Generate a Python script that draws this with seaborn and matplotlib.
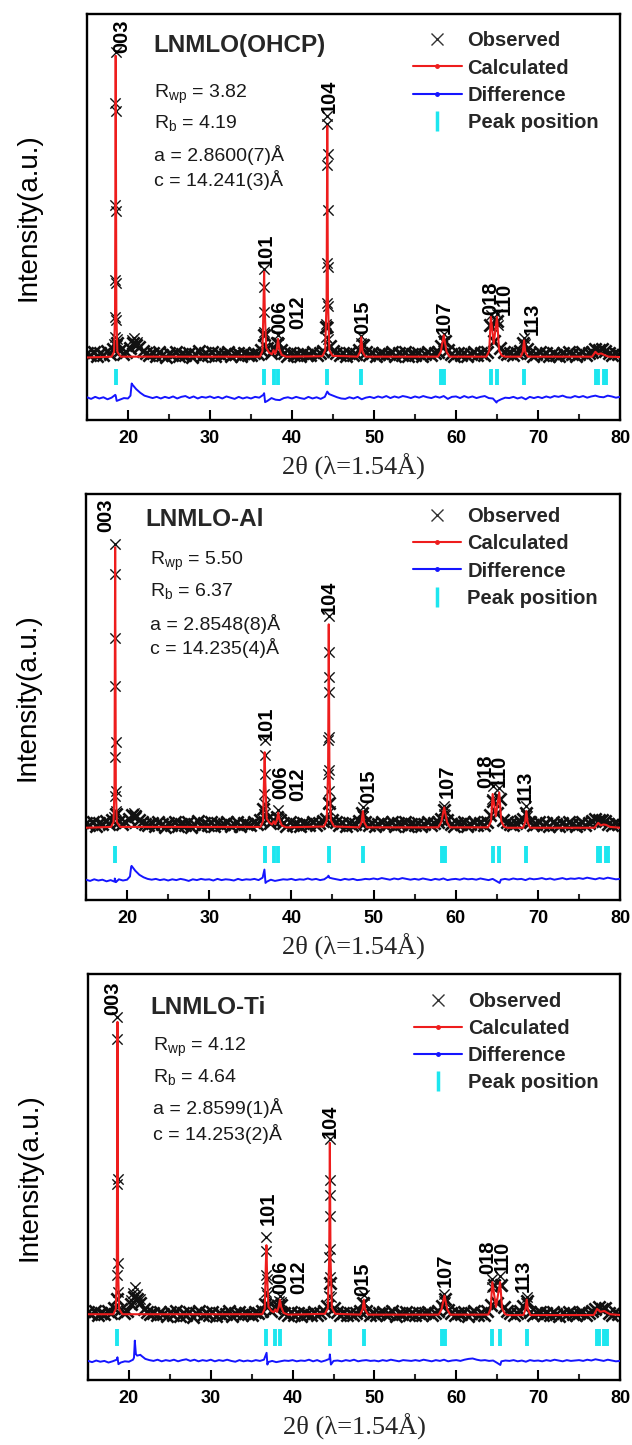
import numpy as np
import pandas as pd
import matplotlib
matplotlib.use("Agg")
import matplotlib.pyplot as plt
from matplotlib.lines import Line2D
from matplotlib.ticker import MultipleLocator
import seaborn as sns

sns.set_theme(style="ticks")
plt.rcParams["font.family"] = ["Liberation Sans", "DejaVu Sans"]
plt.rcParams["mathtext.fontset"] = "custom"
plt.rcParams["mathtext.rm"] = "Liberation Sans"
plt.rcParams["mathtext.it"] = "Liberation Sans:italic"

# ---- data (intensity in per-mille of panel height, 2theta in degrees) ----
SCAN_START, SCAN_STEP = 15.0, 0.4     # observed background scan
DIFF_START, DIFF_STEP = 15.0, 0.5     # difference curve sampling

HKL = ["003", "101", "006", "012", "104", "015", "107", "018", "110", "113"]
LEGEND_LABELS = ["Observed", "Calculated", "Difference", "Peak position"]

# panel 1: LNMLO(OHCP)
P1_NAME = "LNMLO(OHCP)"
P1_STATS = [r"R$_{\rm wp}$ = 3.82", r"R$_{\rm b}$ = 4.19", "a = 2.8600(7)Å", "c = 14.241(3)Å"]
P1_OBS_BG = [166, 160, 168, 158, 165, 161, 170, 163, 176, 190,
             172, 163, 168, 178, 190, 185, 180, 171, 166, 160,
             164, 158, 167, 161, 156, 165, 160, 168, 157, 163,
             160, 166, 155, 163, 169, 158, 164, 160, 167, 157,
             165, 159, 162, 168, 157, 163, 166, 158, 164, 161,
             160, 166, 163, 172, 210, 178, 166, 176, 190, 172,
             164, 158, 166, 160, 163, 157, 165, 161, 159, 167,
             160, 165, 170, 230, 182, 170, 166, 160, 164, 158,
             165, 160, 163, 172, 185, 168, 160, 165, 158, 163,
             166, 159, 162, 168, 157, 164, 161, 167, 158, 163,
             160, 165, 158, 163, 167, 160, 164, 168, 182, 195,
             172, 163, 158, 165, 161, 166, 157, 163, 168, 160,
             164, 160, 168, 235, 195, 245, 178, 168, 162, 165,
             159, 164, 170, 190, 175, 165, 158, 163, 167, 160,
             164, 158, 166, 161, 157, 165, 160, 167, 162, 158,
             163, 167, 160, 164, 168, 176, 172, 174, 170, 164,
             160, 166, 162]
P1_PK_X = [18.5, 18.47, 18.54, 18.46, 18.55, 18.44, 18.57, 18.42, 18.59, 18.39, 18.62, 18.35, 18.66,
           44.3, 44.28, 44.33, 44.27, 44.34, 44.25, 44.36, 44.22, 44.39, 44.2, 44.41, 44.16, 44.45,
           36.6, 36.58, 36.63, 36.55, 36.66, 36.5,
           38.3, 38.24, 38.37, 37.78, 48.45, 48.39, 48.52, 58.5, 58.43, 58.58,
           64.23, 64.15, 65.02, 65.1, 68.3, 68.22, 68.38, 20.45, 20.75, 21.05]
P1_PK_Y = [907, 782, 760, 530, 514, 345, 338, 254, 246, 204, 200, 186, 184,
           749, 728, 654, 629, 518, 386, 378, 287, 280, 237, 230, 204, 200,
           373, 328, 266, 217, 210, 188,
           209, 192, 190, 180, 208, 190, 188, 213, 195, 192,
           258, 232, 262, 235, 202, 188, 188, 196, 202, 192]
P1_CALC_X = [15.0, 18.0, 18.3, 18.42, 18.5, 18.58, 18.7, 19.1,
             36.1, 36.4, 36.52, 36.6, 36.68, 36.85, 37.2, 37.55, 37.75, 37.95, 38.15, 38.3, 38.45, 38.75, 39.3,
             43.7, 44.05, 44.22, 44.3, 44.38, 44.55, 44.95,
             48.0, 48.3, 48.45, 48.6, 48.95,
             57.8, 58.15, 58.5, 58.85, 59.2,
             63.7, 64.05, 64.25, 64.6, 65.0, 65.25, 65.6, 66.0,
             67.9, 68.15, 68.3, 68.45, 68.75,
             76.6, 77.0, 77.3, 77.7, 78.1, 78.6, 80.0]
P1_CALC_Y = [154, 156, 168, 260, 897, 260, 168, 156,
             156, 170, 280, 365, 270, 178, 166, 162, 172, 163, 175, 200, 175, 160, 156,
             157, 172, 300, 724, 300, 172, 158,
             156, 168, 204, 168, 156,
             156, 168, 209, 168, 156,
             156, 170, 254, 188, 254, 172, 158, 156,
             156, 168, 196, 168, 156,
             156, 168, 162, 164, 160, 156, 155]
P1_DIFF = [56, 52, 57, 53, 56, 51, 55, 60, 50, 54,
           53, 88, 76, 67, 60, 57, 54, 57, 53, 57,
           54, 58, 53, 57, 59, 54, 58, 53, 57, 55,
           58, 54, 57, 53, 58, 55, 52, 57, 53, 56,
           53, 57, 55, 62, 47, 54, 50, 49, 54, 56,
           53, 57, 54, 52, 57, 53, 56, 52, 57, 64,
           60, 56, 53, 52, 56, 53, 57, 51, 55, 57,
           54, 58, 55, 59, 54, 58, 55, 59, 57, 54,
           58, 55, 59, 56, 54, 58, 55, 59, 52, 57,
           58, 54, 59, 55, 58, 54, 57, 59, 54, 53,
           46, 51, 55, 54, 57, 53, 56, 51, 57, 54,
           57, 54, 58, 55, 59, 57, 60, 56, 55, 59,
           56, 59, 55, 58, 60, 57, 56, 60, 58, 55,
           57]
P1_SPIKE_X = [18.45, 18.62, 20.3, 20.45, 36.6, 36.72, 44.3, 44.45, 64.95]
P1_SPIKE_Y = [62, 47, 60, 90, 66, 44, 70, 66, 43]
P1_TICKS = [18.5, 36.6, 37.75, 38.3, 44.3, 48.45, 58.2, 58.55, 64.25, 65.0, 68.3, 77.05, 77.35, 78.0, 78.3]
P1_LAB_X = [19.18, 36.88, 38.45, 40.66, 44.6, 48.68, 58.6, 64.1, 65.98, 69.3]
P1_LAB_Y = [905, 378, 213, 225, 756, 213, 213, 258, 275, 209]

# panel 2: LNMLO-Al
P2_NAME = "LNMLO-Al"
P2_STATS = [r"R$_{\rm wp}$ = 5.50", r"R$_{\rm b}$ = 6.37", "a = 2.8548(8)Å", "c = 14.235(4)Å"]
P2_OBS_BG = [190, 184, 192, 183, 189, 186, 194, 187, 198, 212,
             195, 187, 192, 200, 210, 206, 198, 192, 188, 184,
             189, 183, 191, 186, 180, 190, 185, 193, 182, 188,
             185, 191, 180, 188, 194, 183, 189, 185, 192, 182,
             190, 184, 187, 193, 182, 188, 191, 183, 189, 186,
             185, 191, 188, 196, 225, 200, 190, 198, 205, 198,
             189, 183, 191, 185, 188, 182, 190, 186, 184, 192,
             185, 190, 194, 200, 240, 196, 192, 185, 189, 183,
             190, 185, 188, 195, 215, 192, 185, 190, 183, 188,
             191, 184, 187, 193, 182, 189, 186, 192, 183, 188,
             185, 190, 183, 188, 192, 185, 189, 193, 200, 222,
             198, 188, 183, 190, 186, 191, 182, 188, 193, 185,
             189, 185, 193, 210, 245, 215, 250, 198, 192, 187,
             184, 189, 195, 200, 215, 192, 184, 188, 192, 185,
             189, 183, 191, 186, 182, 190, 185, 192, 187, 183,
             188, 192, 185, 189, 194, 200, 198, 197, 195, 188,
             185, 190, 186]
P2_PK_X = [18.55, 18.52, 18.58, 18.51, 18.6, 18.5, 18.61, 18.48, 18.63, 18.45,
           44.55, 44.53, 44.57, 44.52, 44.58, 44.51, 44.6, 44.49, 44.62, 44.47, 44.66,
           36.75, 36.73, 36.77, 36.71, 36.8, 36.68,
           38.4, 38.33, 38.47, 37.85, 48.7, 48.63, 48.77, 58.6, 58.52, 58.68,
           64.5, 64.42, 65.3, 65.38, 68.6, 68.52, 68.68, 20.6, 20.85, 21.1]
P2_PK_Y = [877, 803, 646, 526, 389, 352, 269, 256, 219, 205,
           699, 612, 550, 513, 401, 395, 319, 310, 269, 240, 220,
           393, 356, 310, 261, 236, 212,
           222, 205, 203, 196, 228, 210, 208, 232, 212, 210,
           281, 250, 276, 250, 232, 210, 208, 210, 214, 205]
P2_CALC_X = [15.0, 18.05, 18.35, 18.47, 18.55, 18.63, 18.75, 19.15,
             36.25, 36.55, 36.67, 36.75, 36.83, 37.0, 37.35, 37.65, 37.85, 38.05, 38.25, 38.4, 38.55, 38.85, 39.4,
             43.95, 44.3, 44.47, 44.55, 44.63, 44.8, 45.2,
             48.25, 48.55, 48.7, 48.85, 49.2,
             57.9, 58.25, 58.6, 58.95, 59.3,
             63.95, 64.3, 64.5, 64.88, 65.3, 65.55, 65.9, 66.3,
             68.2, 68.45, 68.6, 68.75, 69.05,
             76.9, 77.35, 77.65, 78.0, 78.3, 78.8, 80.0]
P2_CALC_Y = [178, 180, 192, 280, 869, 280, 192, 180,
             180, 194, 300, 364, 290, 200, 190, 186, 194, 187, 198, 215, 198, 183, 179,
             181, 196, 320, 679, 320, 196, 181,
             179, 192, 219, 192, 179,
             179, 192, 228, 192, 179,
             179, 194, 261, 206, 265, 194, 180, 178,
             178, 192, 219, 192, 178,
             178, 190, 184, 186, 185, 180, 178]
P2_DIFF = [50, 47, 51, 48, 50, 46, 49, 45, 51, 48,
           50, 82, 72, 62, 56, 52, 50, 52, 49, 51,
           48, 51, 49, 52, 50, 47, 51, 49, 52, 50,
           51, 48, 52, 49, 51, 50, 48, 52, 49, 51,
           50, 52, 49, 55, 45, 50, 47, 49, 51, 50,
           52, 49, 51, 50, 53, 50, 52, 49, 51, 58,
           53, 51, 49, 52, 50, 52, 49, 50, 52, 51,
           53, 51, 54, 52, 50, 53, 51, 54, 52, 50,
           52, 50, 53, 51, 49, 52, 50, 53, 49, 51,
           52, 50, 53, 51, 52, 50, 53, 51, 49, 52,
           46, 50, 52, 50, 53, 51, 52, 49, 53, 51,
           52, 54, 51, 53, 50, 52, 54, 51, 53, 52,
           54, 52, 55, 53, 51, 54, 52, 55, 53, 51,
           52]
P2_SPIKE_X = [18.5, 18.65, 20.35, 20.55, 36.72, 36.85, 44.5, 44.62, 65.35]
P2_SPIKE_Y = [53, 44, 58, 84, 75, 42, 60, 55, 42]
P2_TICKS = [18.55, 36.75, 37.85, 38.4, 44.55, 48.7, 58.35, 58.7, 64.5, 65.3, 68.6, 77.3, 77.6, 78.25, 78.6]
P2_LAB_X = [17.4, 36.98, 38.7, 40.8, 44.6, 49.37, 59.0, 63.5, 65.4, 68.45]
P2_LAB_Y = [906, 393, 248, 244, 704, 240, 252, 277, 281, 240]

# panel 3: LNMLO-Ti
P3_NAME = "LNMLO-Ti"
P3_STATS = [r"R$_{\rm wp}$ = 4.12", r"R$_{\rm b}$ = 4.64", "a = 2.8599(1)Å", "c = 14.253(2)Å"]
P3_OBS_BG = [168, 162, 170, 160, 166, 163, 171, 165, 178, 200,
             175, 166, 170, 188, 205, 200, 190, 175, 168, 162,
             166, 159, 168, 162, 157, 167, 161, 170, 158, 164,
             161, 167, 156, 164, 170, 159, 165, 161, 168, 158,
             166, 160, 163, 169, 158, 164, 167, 159, 165, 162,
             161, 167, 164, 170, 188, 182, 170, 178, 182, 184,
             165, 159, 167, 161, 164, 158, 166, 162, 160, 168,
             161, 166, 170, 182, 240, 178, 167, 161, 165, 159,
             166, 161, 164, 170, 190, 170, 161, 166, 159, 164,
             167, 160, 163, 169, 158, 165, 162, 168, 159, 164,
             161, 166, 159, 164, 168, 161, 165, 169, 182, 200,
             172, 164, 159, 166, 162, 167, 158, 164, 169, 161,
             165, 161, 169, 185, 235, 190, 235, 180, 170, 164,
             160, 165, 171, 182, 195, 168, 159, 164, 168, 161,
             165, 159, 167, 162, 158, 166, 161, 168, 163, 159,
             164, 168, 161, 165, 169, 176, 180, 174, 178, 166,
             161, 167, 163]
P3_PK_X = [18.6, 18.57, 18.62, 18.58, 18.64, 18.56, 18.66, 18.53,
           44.55, 44.53, 44.57, 44.52, 44.58, 44.5, 44.61, 44.48, 44.64,
           36.8, 36.79, 36.76, 36.84, 36.73, 36.87,
           38.45, 38.38, 38.52, 37.85, 48.7, 48.63, 48.77, 58.55, 58.47, 58.63,
           64.4, 64.33, 65.35, 65.43, 68.6, 68.52, 68.68,
           20.3, 20.55, 20.75, 21.0, 21.3]
P3_PK_Y = [894, 840, 496, 483, 289, 258, 217, 200,
           593, 493, 455, 405, 322, 302, 254, 208, 205,
           351, 318, 258, 250, 217, 210,
           208, 195, 192, 182, 210, 192, 190, 212, 195, 193,
           250, 228, 256, 232, 205, 190, 190,
           198, 215, 228, 212, 200]
P3_CALC_X = [15.0, 18.1, 18.4, 18.52, 18.6, 18.68, 18.8, 19.2,
             36.3, 36.6, 36.72, 36.8, 36.88, 37.05, 37.4, 37.7, 37.88, 38.1, 38.3, 38.45, 38.6, 38.9, 39.45,
             43.95, 44.3, 44.47, 44.55, 44.63, 44.8, 45.2,
             48.25, 48.55, 48.7, 48.85, 49.2,
             57.85, 58.2, 58.55, 58.9, 59.25,
             63.9, 64.2, 64.4, 64.85, 65.35, 65.6, 65.95, 66.3,
             68.2, 68.45, 68.6, 68.75, 69.05,
             76.8, 77.2, 77.6, 78.1, 78.4, 78.8, 80.0]
P3_CALC_Y = [162, 162, 175, 270, 882, 270, 175, 162,
             162, 176, 280, 332, 260, 180, 170, 167, 174, 168, 180, 198, 180, 165, 161,
             163, 177, 300, 584, 300, 177, 163,
             161, 174, 198, 174, 161,
             161, 174, 208, 174, 161,
             161, 176, 241, 180, 241, 176, 162, 160,
             160, 174, 198, 174, 160,
             160, 175, 168, 170, 166, 162, 160]
P3_DIFF = [47, 44, 48, 45, 47, 43, 46, 50, 43, 46,
           45, 50, 60, 60, 52, 49, 47, 50, 46, 49,
           47, 50, 46, 49, 51, 47, 50, 46, 49, 47,
           50, 46, 49, 47, 50, 47, 45, 49, 46, 48,
           46, 49, 47, 50, 44, 47, 44, 46, 48, 47,
           49, 46, 48, 47, 50, 46, 49, 45, 48, 52,
           47, 48, 46, 49, 47, 50, 46, 48, 49, 47,
           48, 46, 49, 47, 50, 48, 46, 49, 48, 47,
           49, 47, 50, 48, 46, 49, 47, 50, 46, 48,
           49, 47, 50, 52, 53, 50, 48, 49, 47, 48,
           42, 46, 48, 47, 49, 46, 48, 45, 49, 47,
           48, 46, 49, 47, 50, 48, 46, 49, 47, 48,
           49, 47, 50, 48, 51, 49, 47, 50, 48, 46,
           47]
P3_SPIKE_X = [18.6, 18.72, 20.62, 20.72, 20.85, 21.4, 36.82, 36.92, 44.55, 44.68, 65.38]
P3_SPIKE_Y = [56, 39, 55, 97, 64, 62, 67, 38, 63, 38, 37]
P3_TICKS = [18.6, 36.8, 37.85, 38.45, 44.55, 48.7, 58.3, 58.65, 64.4, 65.35, 68.6, 77.15, 77.45, 78.1, 78.45]
P3_LAB_X = [18.0, 37.0, 38.5, 40.8, 44.64, 48.6, 58.7, 63.75, 65.7, 68.2]
P3_LAB_Y = [899, 382, 212, 212, 597, 208, 229, 262, 270, 217]

# ---- layout ----
FIG_W, FIG_H = 632, 1445
AX_RIGHT, AX_H = 620, 406
RED, BLUE, CYAN, OBS = "#ee1d1d", "#1515ff", "#1de6ef", "#111111"
CLOSE_PAIR = ("018", "110")   # neighbouring reflections labelled side by side

panels = [
    dict(name=P1_NAME, stats=P1_STATS, obs_bg=P1_OBS_BG, pk_x=P1_PK_X, pk_y=P1_PK_Y,
         calc_x=P1_CALC_X, calc_y=P1_CALC_Y, diff=P1_DIFF, sp_x=P1_SPIKE_X, sp_y=P1_SPIKE_Y,
         ticks=P1_TICKS, lab_x=P1_LAB_X, lab_y=P1_LAB_Y,
         box=(87, 14), tick_band=(86, 126), title_xy=(0.125, 0.922), stats_x=0.125,
         stats_y=[0.793, 0.718, 0.637, 0.577], leg_y=0.957),
    dict(name=P2_NAME, stats=P2_STATS, obs_bg=P2_OBS_BG, pk_x=P2_PK_X, pk_y=P2_PK_Y,
         calc_x=P2_CALC_X, calc_y=P2_CALC_Y, diff=P2_DIFF, sp_x=P2_SPIKE_X, sp_y=P2_SPIKE_Y,
         ticks=P2_TICKS, lab_x=P2_LAB_X, lab_y=P2_LAB_Y,
         box=(86, 494), tick_band=(90, 133), title_xy=(0.112, 0.937), stats_x=0.12,
         stats_y=[0.825, 0.749, 0.666, 0.606], leg_y=0.967),
    dict(name=P3_NAME, stats=P3_STATS, obs_bg=P3_OBS_BG, pk_x=P3_PK_X, pk_y=P3_PK_Y,
         calc_x=P3_CALC_X, calc_y=P3_CALC_Y, diff=P3_DIFF, sp_x=P3_SPIKE_X, sp_y=P3_SPIKE_Y,
         ticks=P3_TICKS, lab_x=P3_LAB_X, lab_y=P3_LAB_Y,
         box=(88, 974), tick_band=(83, 125), title_xy=(0.117, 0.917), stats_x=0.122,
         stats_y=[0.811, 0.733, 0.654, 0.592], leg_y=0.955),
]


def draw_panel(ax, p):
    grid_x = np.round(SCAN_START + SCAN_STEP * np.arange(len(p["obs_bg"])), 2)
    obs_bg = pd.DataFrame({"two_theta": grid_x, "counts": p["obs_bg"]})
    obs_pk = pd.DataFrame({"two_theta": p["pk_x"], "counts": p["pk_y"]})
    calc = pd.DataFrame({"two_theta": p["calc_x"], "counts": p["calc_y"]})
    diff_x = np.round(DIFF_START + DIFF_STEP * np.arange(len(p["diff"])), 2)
    diff = pd.DataFrame({"two_theta": np.r_[diff_x, p["sp_x"]],
                         "counts": np.r_[p["diff"], p["sp_y"]]}).sort_values("two_theta")

    # dense background scan: heavy crosses merge into the black band
    sns.scatterplot(data=obs_bg, x="two_theta", y="counts", marker="x", s=78, color=OBS,
                    linewidth=1.9, legend=False, ax=ax, zorder=2)
    sns.scatterplot(data=obs_pk, x="two_theta", y="counts", marker="x", s=55, color=OBS,
                    linewidth=1.0, legend=False, ax=ax, zorder=2)
    sns.lineplot(data=calc, x="two_theta", y="counts", color=RED, linewidth=1.5,
                 estimator=None, ax=ax, zorder=3)
    sns.lineplot(data=diff, x="two_theta", y="counts", color=BLUE, linewidth=1.4,
                 estimator=None, ax=ax, zorder=3)
    ax.vlines(p["ticks"], p["tick_band"][0], p["tick_band"][1], colors=CYAN, linewidth=2.8, zorder=2)

    lab_kw = dict(rotation=90, ha="center", va="bottom", fontsize=14.5, fontweight="bold", color="black")
    for hkl, lx, ly in zip(HKL, p["lab_x"], p["lab_y"]):
        if hkl not in CLOSE_PAIR:
            ax.text(lx, ly, hkl, **lab_kw)
    # the two crowded labels sit shoulder to shoulder, set as one two-line label
    ia, ib = HKL.index(CLOSE_PAIR[0]), HKL.index(CLOSE_PAIR[1])
    ax.text((p["lab_x"][ia] + p["lab_x"][ib]) / 2, min(p["lab_y"][ia], p["lab_y"][ib]),
            "\n".join(CLOSE_PAIR), linespacing=0.66, **lab_kw)

    tx, ty = p["title_xy"]
    ax.text(tx, ty, p["name"], transform=ax.transAxes, fontsize=17.5, fontweight="bold", va="center")
    for s, sy in zip(p["stats"], p["stats_y"]):
        ax.text(p["stats_x"], sy, s, transform=ax.transAxes, fontsize=14, va="baseline", color="#1a1a1a")

    handles = [
        Line2D([], [], ls="none", marker="x", color="#333333", markersize=8, markeredgewidth=1.0),
        Line2D([], [], color=RED, linewidth=1.5, marker=".", markersize=5),
        Line2D([], [], color=BLUE, linewidth=1.5, marker=".", markersize=5),
        Line2D([], [], ls="none", marker="|", color=CYAN, markersize=14, markeredgewidth=2.5),
    ]
    ax.legend(handles, LEGEND_LABELS, loc="upper left", bbox_to_anchor=(0.612, p["leg_y"]),
              frameon=False, prop=dict(weight="bold", size=14.5), handlelength=2.4,
              handletextpad=0.3, labelspacing=0.4, borderpad=0, borderaxespad=0, numpoints=1)

    ax.set_xlim(15, 80)
    ax.set_ylim(0, 1000)
    ax.set_yticks([])
    ax.xaxis.set_major_locator(MultipleLocator(10))
    ax.xaxis.set_minor_locator(MultipleLocator(5))
    ax.tick_params(axis="x", which="major", direction="in", length=7, width=1.5, labelsize=13,
                   pad=7, bottom=True, top=False, colors="black")
    ax.tick_params(axis="x", which="minor", direction="in", length=4, width=1.5, bottom=True, top=False)
    for lab in ax.get_xticklabels():
        lab.set_fontweight("bold")
    for sp in ax.spines.values():
        sp.set_visible(True)
        sp.set_linewidth(1.7)
        sp.set_color("black")
    ax.set_xlabel("2θ (λ=1.54Å)", family=["Liberation Serif", "DejaVu Serif"], fontsize=19, labelpad=5)
    ax.set_ylabel("Intensity(a.u.)", fontsize=20, labelpad=33, color="black")


fig = plt.figure(figsize=(FIG_W / 100, FIG_H / 100), dpi=100)
fig.patch.set_facecolor("white")
for p in panels:
    left, top = p["box"]
    ax = fig.add_axes([left / FIG_W, 1 - (top + AX_H) / FIG_H, (AX_RIGHT - left) / FIG_W, AX_H / FIG_H])
    ax.set_facecolor("white")
    draw_panel(ax, p)

fig.savefig("out.png", dpi=100, facecolor="white")
